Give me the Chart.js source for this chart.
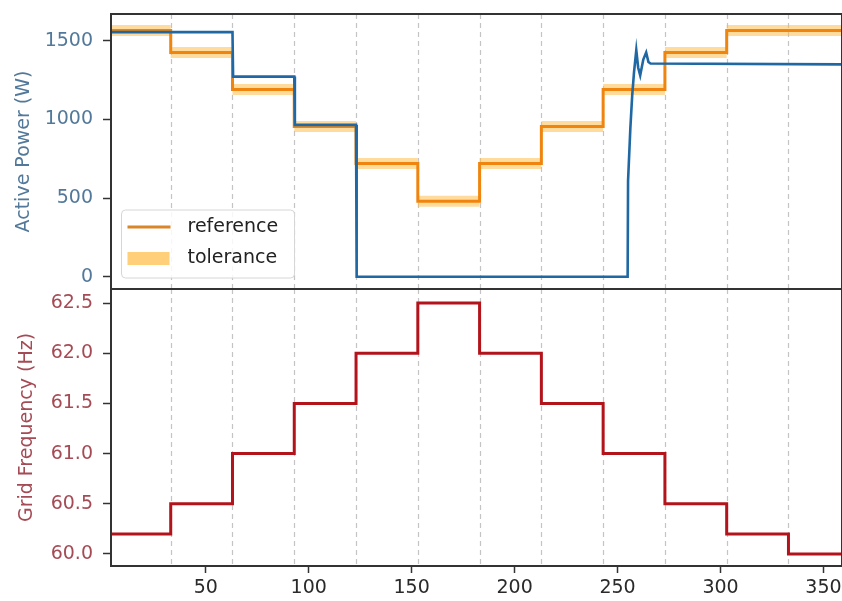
<!DOCTYPE html>
<html>
<head>
<meta charset="utf-8">
<script src="https://cdn.jsdelivr.net/npm/chart.js@4.4.1/dist/chart.umd.min.js"></script>
<style>
  body { margin: 0; background: #fff; }
  #wrap { position: relative; width: 842px; height: 601px; }
  canvas { position: absolute; left: 0; top: 0; }
</style>
</head>
<body>
<div id="wrap">
  <canvas id="powerChart" width="842" height="601"></canvas>
  <canvas id="freqChart" width="842" height="601"></canvas>
</div>
<script>
// times (s) where the frequency setpoint changes
var stepTimes = [33, 63, 93, 123, 153, 183, 213, 243, 273, 303, 333];
var segStart = [0, 33, 63, 93, 123, 153, 183, 213, 243, 273, 303, 333];
var segEnd = 360;

// reference power per segment (W) and tolerance band half-width
var refPower = [1565, 1425, 1190, 955, 720, 480, 720, 955, 1190, 1425, 1565, 1565];
var tolerance = 35;

// grid frequency per segment (Hz)
var gridFreq = [60.2, 60.5, 61.0, 61.5, 62.0, 62.5, 62.0, 61.5, 61.0, 60.5, 60.2, 60.0];

// measured active power
var measTime = [0, 63, 63.3, 93, 93.3, 123, 123.3, 254.9, 255.1, 256.2, 257.1, 258, 259.1, 260, 261, 262.5, 263.9, 265, 266, 360];
var measPower = [1555, 1555, 1272, 1272, 965, 965, 0, 0, 610, 940, 1150, 1300, 1440, 1330, 1280, 1380, 1425, 1365, 1355, 1350];

var xTicks = [50, 100, 150, 200, 250, 300, 350];
var powerTicks = [0, 500, 1000, 1500];
var freqTicks = [60.0, 60.5, 61.0, 61.5, 62.0, 62.5];

var FONT = 'DejaVu Sans';

function steps(values) {
  var pts = segStart.map(function (t, i) { return { x: t, y: values[i] }; });
  pts.push({ x: segEnd, y: values[values.length - 1] });
  return pts;
}
var refPts = steps(refPower);
var tolHigh = steps(refPower.map(function (v) { return v + tolerance; }));
var tolLow = steps(refPower.map(function (v) { return v - tolerance; }));
var freqPts = steps(gridFreq);
var measPts = measTime.map(function (t, i) { return { x: t, y: measPower[i] }; });

// box round each panel
var framePlugin = {
  id: 'frame',
  afterDraw: function (chart) {
    var a = chart.chartArea, ctx = chart.ctx;
    ctx.save();
    ctx.strokeStyle = '#333';
    ctx.lineWidth = 2;
    ctx.strokeRect(a.left, a.top, a.right - a.left, a.bottom - a.top);
    ctx.restore();
  }
};

// dashed lines at the setpoint changes
var stepLinesPlugin = {
  id: 'stepLines',
  beforeDatasetsDraw: function (chart) {
    var a = chart.chartArea, ctx = chart.ctx, x = chart.scales.x;
    ctx.save();
    ctx.strokeStyle = '#c4c4c4';
    ctx.lineWidth = 1.2;
    ctx.setLineDash([5, 4]);
    stepTimes.forEach(function (t) {
      var px = Math.round(x.getPixelForValue(t)) + 0.5;
      ctx.beginPath();
      ctx.moveTo(px, a.top);
      ctx.lineTo(px, a.bottom);
      ctx.stroke();
    });
    ctx.restore();
  }
};

// legend inside the lower left of the power panel
var legendPlugin = {
  id: 'legendBox',
  afterDraw: function (chart) {
    var ctx = chart.ctx, a = chart.chartArea;
    var bx = a.left + 10.5, by = a.bottom - 79, bw = 173, bh = 68;
    var ds = chart.data.datasets;
    ctx.save();
    ctx.beginPath();
    ctx.roundRect(bx, by, bw, bh, 4);
    ctx.fillStyle = 'rgba(255,255,255,0.85)';
    ctx.fill();
    ctx.strokeStyle = '#d6d6d6';
    ctx.lineWidth = 1;
    ctx.stroke();

    ctx.strokeStyle = '#d9852a';
    ctx.lineWidth = 3;
    ctx.beginPath();
    ctx.moveTo(bx + 6, by + 17);
    ctx.lineTo(bx + 49, by + 17);
    ctx.stroke();

    ctx.fillStyle = '#ffcf7a';
    ctx.fillRect(bx + 6, by + 42, 42, 13);

    ctx.fillStyle = '#222';
    ctx.font = '19px "' + FONT + '"';
    ctx.textBaseline = 'middle';
    ctx.fillText(ds[1].label, bx + 66, by + 17);
    ctx.fillText(ds[2].label, bx + 66, by + 48);
    ctx.restore();
  }
};

function yFit(s) { s.width = 111; s.paddingTop = 0; s.paddingBottom = 0; }

var powerChart = new Chart(document.getElementById('powerChart').getContext('2d'), {
  type: 'line',
  data: {
    datasets: [{
      label: 'measured',
      data: measPts,
      borderColor: '#1f68a3',
      borderWidth: 2.6,
      pointRadius: 0,
      fill: false
    }, {
      label: 'reference',
      data: refPts,
      stepped: true,
      borderColor: '#ef850f',
      borderWidth: 3,
      pointRadius: 0,
      fill: false
    }, {
      label: 'tolerance',
      data: tolHigh,
      stepped: true,
      borderWidth: 0,
      borderColor: 'rgba(0,0,0,0)',
      backgroundColor: 'rgba(255,183,60,0.5)',
      pointRadius: 0,
      fill: '+1'
    }, {
      label: 'tolLow',
      data: tolLow,
      stepped: true,
      borderWidth: 0,
      borderColor: 'rgba(0,0,0,0)',
      pointRadius: 0,
      fill: false
    }]
  },
  options: {
    responsive: false,
    animation: false,
    layout: { padding: { top: 14, bottom: 312, left: 0, right: 0 } },
    plugins: { legend: { display: false }, tooltip: { enabled: false } },
    scales: {
      x: { type: 'linear', min: 4, max: 359, display: false },
      y: {
        min: -78, max: 1670,
        afterBuildTicks: function (s) { s.ticks = powerTicks.map(function (v) { return { value: v }; }); },
        afterFit: yFit,
        ticks: {
          color: '#52799a', padding: 10,
          font: { family: FONT, size: 19 },
          callback: function (v) { return String(v); }
        },
        grid: { drawOnChartArea: false, tickLength: 8, tickColor: '#333', tickWidth: 1.5 },
        border: { color: '#333', width: 2 },
        title: {
          display: true, text: 'Active Power (W)', color: '#52799a',
          font: { family: FONT, size: 19 }, padding: { top: 13, bottom: 0 }
        }
      }
    }
  },
  plugins: [stepLinesPlugin, framePlugin, legendPlugin]
});

var freqChart = new Chart(document.getElementById('freqChart').getContext('2d'), {
  type: 'line',
  data: {
    datasets: [{
      label: 'grid frequency',
      data: freqPts,
      stepped: true,
      borderColor: '#b3141c',
      borderWidth: 3,
      pointRadius: 0,
      fill: false
    }]
  },
  options: {
    responsive: false,
    animation: false,
    layout: { padding: { top: 289, bottom: 0, left: 0, right: 0 } },
    plugins: { legend: { display: false }, tooltip: { enabled: false } },
    scales: {
      x: {
        type: 'linear', min: 4, max: 359,
        afterBuildTicks: function (s) { s.ticks = xTicks.map(function (v) { return { value: v }; }); },
        afterFit: function (s) { s.height = 35; s.paddingLeft = 0; s.paddingRight = 0; },
        ticks: {
          color: '#2a2a2a', padding: 4, maxRotation: 0,
          font: { family: FONT, size: 19 },
          callback: function (v) { return String(v); }
        },
        grid: { drawOnChartArea: false, tickLength: 7, tickColor: '#333', tickWidth: 1.5 },
        border: { color: '#333', width: 2 }
      },
      y: {
        min: 59.88, max: 62.64,
        afterBuildTicks: function (s) { s.ticks = freqTicks.map(function (v) { return { value: v }; }); },
        afterFit: yFit,
        ticks: {
          color: '#a54b55', padding: 10,
          font: { family: FONT, size: 19 },
          callback: function (v) { return v.toFixed(1); }
        },
        grid: { drawOnChartArea: false, tickLength: 8, tickColor: '#333', tickWidth: 1.5 },
        border: { color: '#333', width: 2 },
        title: {
          display: true, text: 'Grid Frequency (Hz)', color: '#a54b55',
          font: { family: FONT, size: 19 }, padding: { top: 16, bottom: 0 }
        }
      }
    }
  },
  plugins: [stepLinesPlugin, framePlugin]
});
</script>
</body>
</html>
